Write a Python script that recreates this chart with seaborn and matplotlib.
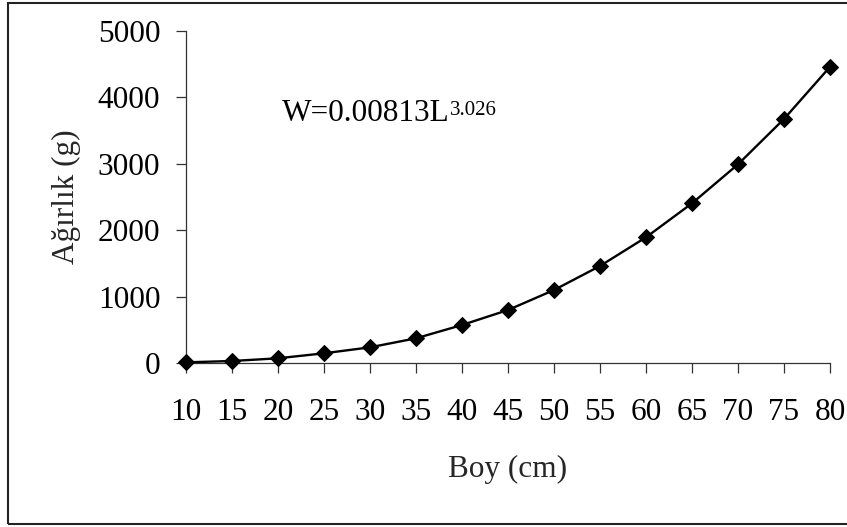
import matplotlib
matplotlib.use("Agg")
import matplotlib.pyplot as plt
import seaborn as sns
import pandas as pd
from matplotlib.patches import Rectangle

# Data
boy_cm = [10, 15, 20, 25, 30, 35, 40, 45, 50, 55, 60, 65, 70, 75, 80]
agirlik_g = [10, 30, 71, 146, 236, 372, 572, 798, 1099, 1461, 1893, 2405, 2992, 3675, 4460]
x_ticks = [10, 15, 20, 25, 30, 35, 40, 45, 50, 55, 60, 65, 70, 75, 80]
y_ticks = [0, 1000, 2000, 3000, 4000, 5000]
equation_main = "W=0.00813L"
equation_exp = "3.026"

sns.set_style("ticks")
plt.rcParams["font.family"] = ["Liberation Serif", "DejaVu Serif"]

df = pd.DataFrame({"Boy": boy_cm, "Agirlik": agirlik_g})

fig = plt.figure(figsize=(8.47, 5.27), dpi=100)
ax = fig.add_axes([186 / 847, 1 - 363 / 527, (830 - 186) / 847, (363 - 31) / 527])

sns.lineplot(data=df, x="Boy", y="Agirlik", ax=ax, color="black", linewidth=1.7,
             marker="D", markersize=8, markerfacecolor="black",
             markeredgecolor="black", clip_on=False, zorder=5)

ax.set_xlim(10, 80)
ax.set_ylim(0, 5000)
ax.set_xticks(x_ticks)
ax.set_yticks(y_ticks)
ax.set_xticklabels([str(v) for v in x_ticks])
ax.set_yticklabels([str(v) for v in y_ticks])

for side in ["top", "right"]:
    ax.spines[side].set_visible(False)
for side in ["left", "bottom"]:
    ax.spines[side].set_color("#333333")
    ax.spines[side].set_linewidth(0.9)

ax.tick_params(axis="both", direction="out", length=7.5, width=0.9, color="#333333",
               labelsize=22.5, labelcolor="black")
ax.tick_params(axis="y", pad=11)
ax.tick_params(axis="x", pad=18)

ax.set_xlabel("Boy (cm)", fontsize=22.5, labelpad=20)
ax.set_ylabel("Ağırlık (g)", fontsize=22.5, labelpad=12)

t = ax.text(0.149, 0.753, equation_main, transform=ax.transAxes, fontsize=22.5,
            va="center", ha="left", color="black")
ax.annotate(equation_exp, xy=(1.0, 1.0), xycoords=t, xytext=(0, -1.5),
            textcoords="offset points", fontsize=15, va="top", ha="left", color="black")

fig.patches.append(Rectangle((7.5 / 847, 3 / 527), 1.0, 521 / 527, transform=fig.transFigure,
                             fill=False, edgecolor="#222222", linewidth=1.5, figure=fig))

fig.savefig("out.png", dpi=100)
